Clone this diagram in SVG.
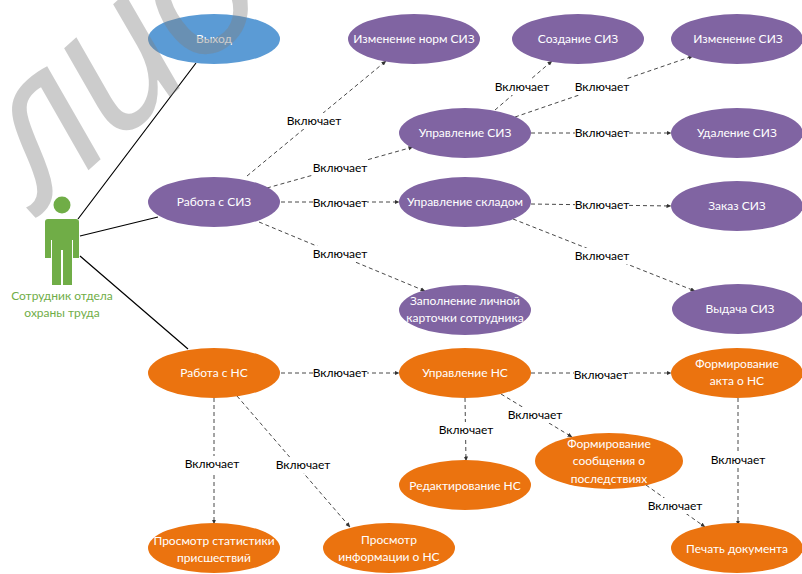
<svg xmlns="http://www.w3.org/2000/svg" width="802" height="574" viewBox="0 0 802 574">
<style>
text{font-family:"Lato","Open Sans","Liberation Sans",sans-serif;font-size:12px;text-anchor:middle}
.n text{fill:#fff}
.p{fill:#8064A2}.o{fill:#EB730F}.b{fill:#5B9BD5}
.s{stroke:#000;stroke-width:1.2;fill:none}
.d{stroke:#333;stroke-width:.9;stroke-dasharray:4 3;fill:none;marker-end:url(#a)}
.l rect{fill:#fff}
.l text{fill:#000}
.wm{font-family:"Open Sans",sans-serif;font-style:italic;font-size:200px;letter-spacing:-9px;fill:#7f7f7f;fill-opacity:.4;text-anchor:start}
</style>
<defs><marker id="a" markerWidth="5" markerHeight="5" refX="4.5" refY="2.5" orient="auto" markerUnits="userSpaceOnUse"><path d="M0 0.4L5 2.5L0 4.6z" fill="#333"/></marker></defs>
<rect width="802" height="574" fill="#fff"/>
<g id="connectors">
<path class="s" d="M78 219L196 63M80 236L158 217M80 256L188 349"/>
<path class="d" d="M247 176L386 61"/>
<path class="d" d="M267 188L413 147"/>
<path class="d" d="M281 202L399 202"/>
<path class="d" d="M259 222L425 291"/>
<path class="d" d="M495 110L552 61"/>
<path class="d" d="M515 117L693 56"/>
<path class="d" d="M531 133L671 133"/>
<path class="d" d="M531 204L671 206"/>
<path class="d" d="M513 219L695 291"/>
<path class="d" d="M281 373L399 373"/>
<path class="d" d="M531 373L671 373"/>
<path class="d" d="M465 398L466 461"/>
<path class="d" d="M501 394L572 437"/>
<path class="d" d="M646 485L705 527"/>
<path class="d" d="M738 398L738 525"/>
<path class="d" d="M214 398L214 524"/>
<path class="d" d="M237 396L350 527"/>
<g class="l">
<rect x="287" y="113" width="54" height="16"/><text x="314" y="125">Включает</text>
<rect x="313" y="160" width="54" height="16"/><text x="340" y="172">Включает</text>
<rect x="313" y="195" width="54" height="16"/><text x="340" y="207">Включает</text>
<rect x="313" y="246" width="54" height="16"/><text x="340" y="258">Включает</text>
<rect x="495" y="79" width="54" height="16"/><text x="522" y="91">Включает</text>
<rect x="575" y="79" width="54" height="16"/><text x="602" y="91">Включает</text>
<rect x="575" y="125" width="54" height="16"/><text x="602" y="137">Включает</text>
<rect x="575" y="197" width="54" height="16"/><text x="602" y="209">Включает</text>
<rect x="575" y="248" width="54" height="16"/><text x="602" y="260">Включает</text>
<rect x="313" y="365" width="54" height="16"/><text x="340" y="377">Включает</text>
<rect x="574" y="367" width="54" height="16"/><text x="601" y="379">Включает</text>
<rect x="439" y="422" width="54" height="16"/><text x="466" y="434">Включает</text>
<rect x="508" y="407" width="54" height="16"/><text x="535" y="419">Включает</text>
<rect x="648" y="498" width="54" height="16"/><text x="675" y="510">Включает</text>
<rect x="711" y="452" width="54" height="16"/><text x="738" y="464">Включает</text>
<rect x="185" y="456" width="54" height="16"/><text x="212" y="468">Включает</text>
<rect x="276" y="457" width="54" height="16"/><text x="303" y="469">Включает</text>
</g>
</g>
<g id="actor">
<circle cx="62" cy="205" r="8.5" fill="#70AD47"/>
<path fill="#70AD47" d="M48 219H76Q79 219 79 222V258H73V240H72V285H63V250H61V285H52V240H51V258H45V222Q45 219 48 219Z"/>
<text x="62" y="300" fill="#70AD47">Сотрудник отдела</text>
<text x="62" y="317" fill="#70AD47">охраны труда</text>
</g>
<g id="vyhod" class="n"><ellipse class="b" cx="214" cy="39" rx="66" ry="25"/><text x="214" y="43">Выход</text></g>
<g id="rabota-siz" class="n"><ellipse class="p" cx="214" cy="202" rx="66" ry="25"/><text x="214" y="206">Работа с СИЗ</text></g>
<g id="rabota-ns" class="n"><ellipse class="o" cx="214" cy="373" rx="66" ry="25"/><text x="214" y="377">Работа с НС</text></g>
<g id="izm-norm" class="n"><ellipse class="p" cx="414" cy="39" rx="66" ry="25"/><text x="414" y="43">Изменение норм СИЗ</text></g>
<g id="sozd" class="n"><ellipse class="p" cx="578" cy="39" rx="66" ry="25"/><text x="578" y="43">Создание СИЗ</text></g>
<g id="izm" class="n"><ellipse class="p" cx="737" cy="39" rx="66" ry="25"/><text x="738" y="43">Изменение СИЗ</text></g>
<g id="upr-siz" class="n"><ellipse class="p" cx="465" cy="133" rx="66" ry="25"/><text x="465" y="137">Управление СИЗ</text></g>
<g id="udal" class="n"><ellipse class="p" cx="737" cy="133" rx="66" ry="25"/><text x="737" y="137">Удаление СИЗ</text></g>
<g id="upr-sklad" class="n"><ellipse class="p" cx="465" cy="202" rx="66" ry="25"/><text x="465" y="206">Управление складом</text></g>
<g id="zakaz" class="n"><ellipse class="p" cx="737" cy="206" rx="66" ry="25"/><text x="737" y="210">Заказ СИЗ</text></g>
<g id="zapoln" class="n"><ellipse class="p" cx="465" cy="310" rx="66" ry="25"/><text x="465" y="305">Заполнение личной</text><text x="465" y="322">карточки сотрудника</text></g>
<g id="vydacha" class="n"><ellipse class="p" cx="738" cy="309" rx="66" ry="25"/><text x="740" y="313">Выдача СИЗ</text></g>
<g id="upr-ns" class="n"><ellipse class="o" cx="465" cy="373" rx="66" ry="25"/><text x="465" y="377">Управление НС</text></g>
<g id="form-akt" class="n"><ellipse class="o" cx="737" cy="373" rx="66" ry="25"/><text x="737" y="368">Формирование</text><text x="737" y="385">акта о НС</text></g>
<g id="red" class="n"><ellipse class="o" cx="465" cy="485" rx="66" ry="25"/><text x="465" y="490">Редактирование НС</text></g>
<g id="form-soob" class="n"><ellipse class="o" cx="609" cy="461" rx="74" ry="28"/><text x="609" y="448">Формирование</text><text x="609" y="465">сообщения о</text><text x="609" y="483">последствиях</text></g>
<g id="stat" class="n"><ellipse class="o" cx="214" cy="548" rx="66" ry="25"/><text x="214" y="545">Просмотр статистики</text><text x="214" y="562">присшествий</text></g>
<g id="inf" class="n"><ellipse class="o" cx="389" cy="548" rx="66" ry="25"/><text x="389" y="544">Просмотр</text><text x="389" y="561">информации о НС</text></g>
<g id="pechat" class="n"><ellipse class="o" cx="737" cy="548" rx="66" ry="25"/><text x="737" y="553">Печать документа</text></g>
<text class="wm" transform="translate(42 212) rotate(-42)">лио</text>
</svg>
